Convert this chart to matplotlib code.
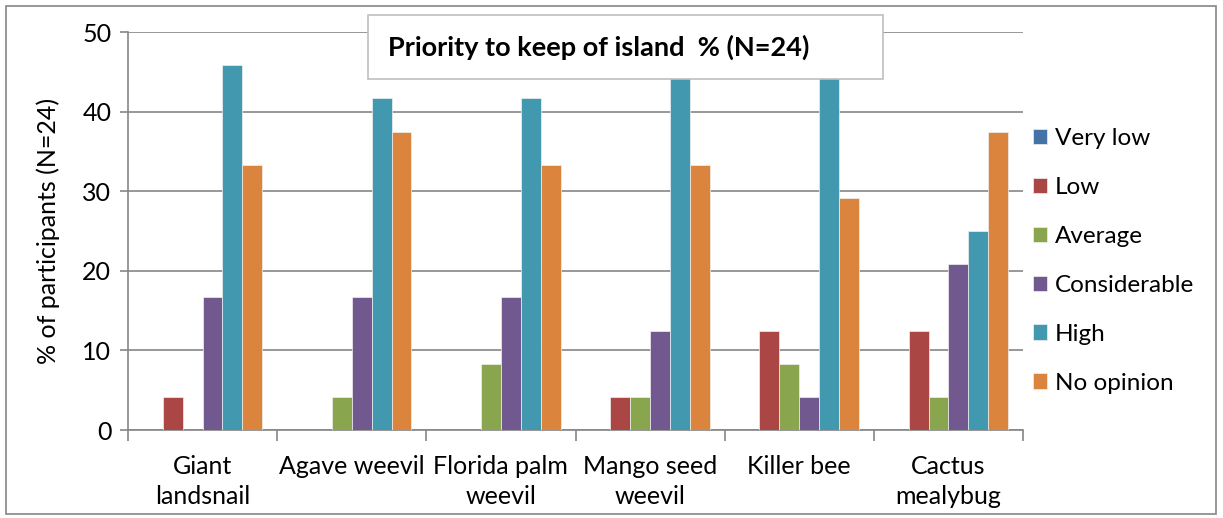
import numpy as np
import matplotlib
matplotlib.use('Agg')
import matplotlib.pyplot as plt
from matplotlib.patches import Rectangle

categories = ["Giant\nlandsnail", "Agave weevil", "Florida palm\nweevil",
              "Mango seed\nweevil", "Killer bee", "Cactus\nmealybug"]
series = ["Very low", "Low", "Average", "Considerable", "High", "No opinion"]
very_low = [0, 0, 0, 0, 0, 0]
low = [4.17, 0, 0, 4.17, 12.5, 12.5]
average = [0, 4.17, 8.33, 4.17, 8.33, 4.17]
considerable = [16.67, 16.67, 16.67, 12.5, 4.17, 20.83]
high = [45.83, 41.67, 41.67, 45.83, 45.83, 25.0]
no_opinion = [33.33, 37.5, 33.33, 33.33, 29.17, 37.5]
values = [very_low, low, average, considerable, high, no_opinion]
colors = ['#4572A7', '#AA4643', '#89A54E', '#71588F', '#4198AF', '#DB843D']

plt.rcParams['font.family'] = ['Lato', 'DejaVu Sans']

fig = plt.figure(figsize=(12.23, 5.18), dpi=100)
ax = fig.add_axes([128/1223, 1-430/518, 895/1223, 398/518])

x = np.arange(len(categories))
w = 0.8 / len(series)
for i, (name, vals) in enumerate(zip(series, values)):
    ax.bar(x - 0.4 + w*(i+0.5), vals, width=w, color=colors[i], label=name,
           edgecolor='#f0f0f0', linewidth=0.5, zorder=3)

ax.set_xlim(-0.5, len(categories)-0.5)
ax.set_ylim(0, 50)
ax.set_yticks(range(0, 51, 10))
ax.yaxis.grid(True, color='#868686', linewidth=1.2, zorder=0)
ax.set_axisbelow(True)
ax.set_xticks(np.arange(-0.5, len(categories), 1))
ax.set_xticklabels([])
ax.set_xticks(x, minor=True)
ax.set_xticklabels(categories, minor=True, fontsize=18, linespacing=1.35)
ax.tick_params(axis='x', which='minor', length=0, pad=18)
ax.tick_params(axis='x', which='major', length=8, color='#868686', width=1.2)
ax.tick_params(axis='y', length=6, color='#868686', width=1.2, labelsize=18, pad=6)
for s in ['top', 'right']:
    ax.spines[s].set_visible(False)
for s in ['left', 'bottom']:
    ax.spines[s].set_color('#868686')
    ax.spines[s].set_linewidth(1.2)
ax.set_ylabel('% of participants (N=24)', fontsize=18, labelpad=16)

ax.legend(loc='center left', bbox_to_anchor=(1.0, 0.425), frameon=False,
          fontsize=17.5, handlelength=0.6, handleheight=0.6, handletextpad=0.3,
          labelspacing=1.15, borderaxespad=0)

# title box over the bars
fig.patches.append(Rectangle((368/1223, 1-79/518), 515/1223, 64/518,
                             transform=fig.transFigure, facecolor='white',
                             edgecolor='#bfbfbf', linewidth=1.2, zorder=5))
fig.text(388/1223, 1-47/518, 'Priority to keep of island  % (N=24)',
         fontsize=19.5, fontweight='bold', va='center', ha='left', zorder=6)

# outer frame
fig.patches.append(Rectangle((6/1223, 4/518), 1210/1223, 508/518,
                             transform=fig.transFigure, facecolor='none',
                             edgecolor='#868686', linewidth=1.2, zorder=4))

fig.savefig('out.png', dpi=100)
plt.close(fig)
